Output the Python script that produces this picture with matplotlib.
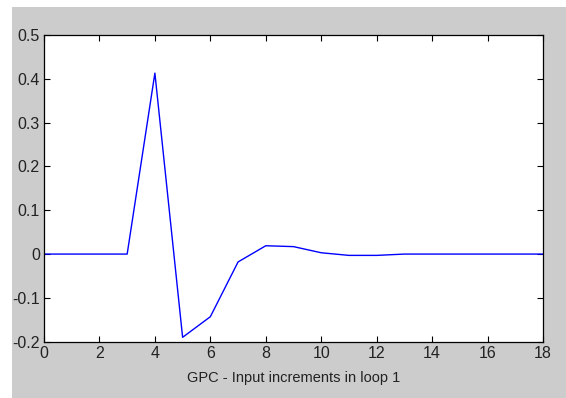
import matplotlib
matplotlib.use("Agg")
import matplotlib.pyplot as plt
from matplotlib.patches import Rectangle

# samples of the input increment (loop 1)
k = [0, 1, 2, 3, 4, 5, 6, 7, 8, 9, 10, 11, 12, 13, 14, 15, 16, 17, 18]
du = [0.0, 0.0, 0.0, 0.0, 0.413, -0.19, -0.143, -0.018, 0.019, 0.017,
      0.003, -0.003, -0.003, 0.0, 0.0, 0.0, 0.0, 0.0, 0.0]
xticks = [0, 2, 4, 6, 8, 10, 12, 14, 16, 18]
yticks = [-0.2, -0.1, 0, 0.1, 0.2, 0.3, 0.4, 0.5]
ytick_labels = ["-0.2", "-0.1", "0", "0.1", "0.2", "0.3", "0.4", "0.5"]

plt.rcParams['font.family'] = ['Liberation Sans', 'DejaVu Sans']

fig = plt.figure(figsize=(5.66, 3.98), dpi=100)
fig.patch.set_facecolor("white")
# grey matlab-like frame
fig.patches.append(Rectangle((12 / 566, 0), 1 - 12 / 566, 1 - 7 / 398,
                             transform=fig.transFigure, facecolor="#cccccc",
                             edgecolor="none", zorder=-10))

ax = fig.add_axes([44 / 566, 1 - 341.7 / 398, (543 - 44) / 566, (341.7 - 35) / 398])
ax.set_zorder(1)
ax.set_facecolor("white")
ax.plot(k, du, color="#0000ff", linewidth=1.0)

ax.set_xlim(0, 18)
ax.set_ylim(-0.2, 0.5)
ax.set_xticks(xticks)
ax.set_yticks(yticks)
ax.set_yticklabels(ytick_labels)
ax.tick_params(direction="in", length=4, width=0.8, top=True, right=True,
               labelsize=11.5, pad=3, colors="black", labelcolor="#222222")
for s in ax.spines.values():
    s.set_linewidth(0.9)
ax.set_xlabel("GPC - Input increments in loop 1", fontsize=10.5, labelpad=7,
              color="#222222")

fig.savefig("out.png", dpi=100, facecolor=fig.get_facecolor())
